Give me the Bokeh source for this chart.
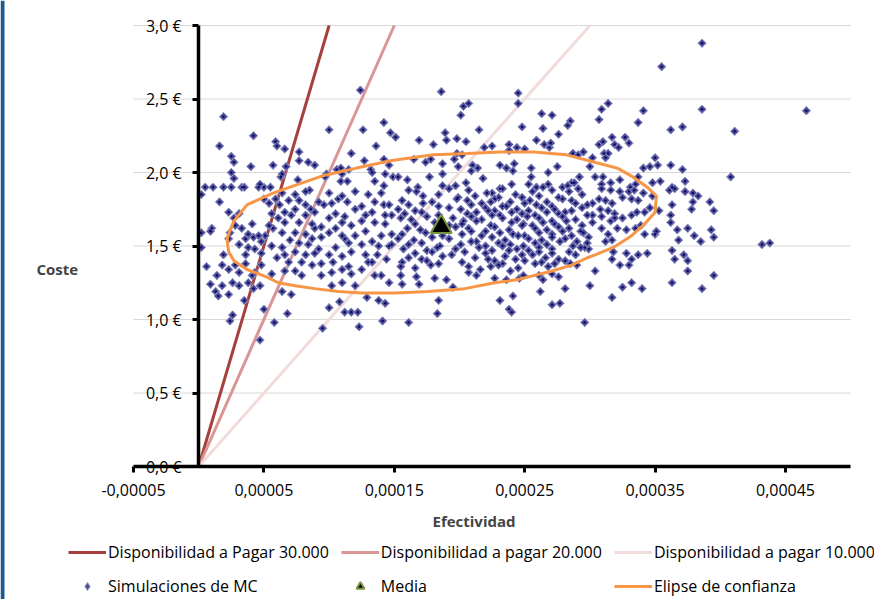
from math import pi
from bokeh.plotting import figure
from bokeh.models import (Range1d, FixedTicker, Legend, LegendItem, Label, ColumnDataSource,
                          BoxAnnotation)
from bokeh.embed import file_html
from bokeh.resources import INLINE

# ---------------- data ----------------
x_ticks = [-0.00005, 0.00005, 0.00015, 0.00025, 0.00035, 0.00045]
x_tick_labels = ["-0,00005", "0,00005", "0,00015", "0,00025", "0,00035", "0,00045"]
y_ticks = [0.0, 0.5, 1.0, 1.5, 2.0, 2.5, 3.0]
y_tick_labels = ["0,0 €", "0,5 €", "1,0 €", "1,5 €", "2,0 €", "2,5 €", "3,0 €"]
x_min, x_max = -0.00005, 0.0005     # plot-area limits (Efectividad)
y_min, y_max = 0.0, 3.0             # plot-area limits (Coste)

# willingness-to-pay lines (cost = WTP * effect)
wtp_values = [30000, 20000, 10000]
wtp_names = ["Disponibilidad a Pagar 30.000", "Disponibilidad a pagar 20.000",
             "Disponibilidad a pagar 10.000"]

media_efect = [0.000186]
media_coste = [1.63]

# Monte Carlo simulations: (efectividad x 1e-5, coste en €)
mc_izq_sup = [
    (1.9, 2.38), (4.2, 2.25), (1.6, 2.18), (5.9, 2.21), (6.0, 2.18), (6.6, 2.16), (2.5, 2.11),
    (2.7, 2.07), (4.0, 2.04), (5.7, 2.05), (6.7, 2.04), (2.5, 2.00), (2.7, 1.96), (6.3, 1.97),
    (6.4, 1.99), (7.7, 2.14), (7.7, 2.08), (8.4, 2.07), (8.9, 2.05), (7.6, 1.95), (10.0, 2.29),
    (12.4, 2.56), (12.6, 2.29), (11.7, 2.13), (12.7, 2.08), (13.6, 2.18), (14.2, 2.34), (14.7, 2.27),
    (9.8, 1.99), (9.7, 1.97), (10.6, 2.02), (10.9, 2.03), (11.0, 1.99), (11.5, 2.02), (10.9, 1.94),
    (11.4, 1.94), (13.2, 2.02), (13.3, 2.00), (13.5, 1.94), (14.2, 2.09), (14.6, 2.05), (14.3, 1.99),
    (14.9, 1.97), (14.2, 1.91), (0.5, 1.90), (1.1, 1.90), (1.9, 1.90), (2.5, 1.90), (3.3, 1.90),
    (3.5, 1.90), (4.6, 1.90), (5.0, 1.90), (5.5, 1.90), (4.7, 1.92), (8.5, 1.88), (15.1, 2.24),
]
mc_centro_sup = [
    (18.6, 2.55), (24.5, 2.54), (24.5, 2.47), (20.3, 2.45), (20.7, 2.47), (20.1, 2.39), (21.5, 2.29),
    (18.9, 2.27), (19.0, 2.22), (16.9, 2.22), (18.0, 2.19), (19.8, 2.23), (20.5, 2.21), (21.9, 2.17),
    (22.5, 2.18), (23.8, 2.19), (23.8, 2.15), (24.4, 2.17), (25.0, 2.16), (24.8, 2.31), (26.3, 2.40),
    (27.1, 2.39), (26.4, 2.30), (28.5, 2.35), (28.3, 2.32), (27.6, 2.26), (25.9, 2.22), (26.5, 2.19),
    (26.9, 2.17), (27.0, 2.20), (16.5, 2.09), (17.4, 2.07), (17.8, 2.09), (18.7, 2.06), (19.8, 2.13),
    (20.2, 2.12), (19.6, 2.09), (19.9, 2.04), (21.0, 2.05), (21.4, 2.03), (20.9, 2.01), (23.1, 2.05),
    (23.6, 2.03), (24.2, 2.06), (24.1, 2.01), (25.5, 2.03), (27.5, 2.04), (26.8, 2.00), (28.7, 2.13),
    (29.1, 2.12), (29.5, 2.14), (30.2, 2.10), (30.0, 2.04), (30.4, 1.97), (29.2, 1.97), (28.6, 1.93),
    (15.3, 1.97), (16.0, 1.95), (16.8, 1.90), (17.7, 1.97), (18.7, 1.99), (18.7, 1.91), (19.7, 1.91),
    (20.5, 1.93), (21.8, 1.96), (25.5, 1.97), (25.3, 1.92), (25.9, 1.90), (24.0, 1.92), (23.1, 1.89),
    (26.8, 1.92), (27.9, 1.90), (28.3, 1.91), (28.8, 1.93),
]
mc_der_sup = [
    (38.6, 2.88), (35.5, 2.72), (31.4, 2.47), (30.9, 2.43), (30.7, 2.36), (34.1, 2.42), (33.7, 2.34),
    (38.6, 2.43), (36.2, 2.29), (37.1, 2.31), (41.1, 2.28), (31.7, 2.24), (30.7, 2.19), (31.0, 2.21),
    (32.7, 2.24), (33.0, 2.20), (31.9, 2.19), (32.2, 2.17), (31.1, 2.13), (31.4, 2.13), (31.2, 2.10),
    (35.0, 2.10), (35.2, 2.05), (34.1, 2.03), (34.6, 2.04), (36.2, 2.05), (37.1, 2.02), (40.8, 1.97),
    (33.7, 1.97), (32.3, 1.95), (35.4, 1.94), (34.8, 1.93), (37.3, 1.94), (36.3, 1.90), (31.0, 1.97),
    (31.6, 1.93), (30.9, 1.92), (33.1, 1.90), (33.5, 1.92), (46.6, 2.42), (36.1, 1.88), (36.5, 1.89),
]
mc_der = [
    (43.2, 1.51), (43.8, 1.52), (39.5, 1.30), (39.2, 1.80), (39.5, 1.74), (37.9, 1.86), (38.3, 1.84),
    (37.9, 1.80), (37.8, 1.75), (37.3, 1.87), (36.3, 1.78), (36.2, 1.71), (36.2, 1.66), (36.7, 1.61),
    (36.8, 1.54), (37.5, 1.62), (38.0, 1.57), (38.5, 1.53), (39.3, 1.61), (39.5, 1.56), (36.3, 1.47),
    (36.5, 1.41), (37.2, 1.44), (37.5, 1.40), (37.5, 1.33), (36.3, 1.25), (38.6, 1.21), (34.4, 1.45),
    (33.7, 1.44), (33.2, 1.41), (33.0, 1.37), (32.8, 1.45), (31.8, 1.46), (31.7, 1.41), (32.3, 1.37),
    (33.2, 1.25), (32.5, 1.22), (34.0, 1.21), (31.7, 1.15), (30.4, 1.33), (34.2, 1.58), (35.0, 1.58),
    (35.1, 1.60), (35.3, 1.74), (34.6, 1.76), (34.2, 1.73), (33.9, 1.64), (32.8, 1.61), (33.5, 1.62),
    (30.9, 1.89), (31.6, 1.88), (32.3, 1.87), (33.0, 1.87), (33.4, 1.88), (34.1, 1.86), (34.8, 1.84),
    (30.7, 1.82), (31.2, 1.81), (31.7, 1.79), (32.5, 1.83), (33.2, 1.82), (33.7, 1.81), (30.8, 1.75),
    (31.4, 1.74), (31.9, 1.72), (32.5, 1.69), (33.2, 1.71), (33.6, 1.73), (30.9, 1.70), (31.6, 1.67),
    (31.9, 1.69), (30.9, 1.62), (31.4, 1.58), (32.1, 1.62), (31.2, 1.53), (31.7, 1.54),
]
mc_centro_inf = [
    (16.1, 0.98), (18.3, 1.04), (18.4, 1.13), (19.5, 1.22), (23.1, 1.13), (23.8, 1.07), (24.0, 1.05),
    (24.1, 1.16), (26.2, 1.19), (27.1, 1.10), (27.7, 1.11), (28.1, 1.21), (29.6, 0.98), (30.0, 1.23),
    (15.5, 1.30), (15.6, 1.24), (16.9, 1.24), (16.7, 1.29), (18.1, 1.28), (19.0, 1.27), (20.7, 1.32),
    (21.3, 1.30), (22.4, 1.36), (22.7, 1.28), (23.6, 1.27), (23.9, 1.33), (24.6, 1.28), (24.9, 1.30),
    (26.1, 1.30), (26.4, 1.27), (27.1, 1.31), (27.6, 1.29), (28.5, 1.38), (29.0, 1.37), (29.9, 1.48),
    (29.6, 1.49),
]
mc_centro = [
    (16.1, 1.88), (16.7, 1.87), (19.2, 1.89), (20.7, 1.88), (22.5, 1.86), (23.3, 1.89), (25.6, 1.87),
    (26.4, 1.90), (27.1, 1.88), (28.4, 1.87), (29.1, 1.89),
    (17.2, 1.84), (18.4, 1.85), (19.9, 1.83), (21.2, 1.84), (22.1, 1.86), (23.0, 1.83), (24.3, 1.85),
    (26.1, 1.84), (27.6, 1.83), (29.4, 1.85),
    (15.6, 1.81), (17.9, 1.80), (19.8, 1.82), (20.6, 1.81), (21.7, 1.79), (22.7, 1.82), (23.9, 1.80),
    (24.8, 1.83), (25.4, 1.81), (26.7, 1.80), (27.9, 1.82), (28.6, 1.81), (30.2, 1.79),
    (16.1, 1.78), (17.2, 1.79), (18.4, 1.77), (20.9, 1.78), (22.4, 1.80), (23.3, 1.77), (25.0, 1.79),
    (25.9, 1.78), (27.1, 1.77), (28.9, 1.79), (29.8, 1.78),
    (15.3, 1.75), (16.6, 1.74), (19.2, 1.76), (20.1, 1.75), (21.3, 1.73), (22.0, 1.76), (22.7, 1.74),
    (23.6, 1.77), (24.4, 1.75), (25.3, 1.74), (26.3, 1.76), (27.3, 1.75), (28.1, 1.73), (29.4, 1.76),
    (15.8, 1.72), (17.1, 1.73), (18.4, 1.71), (20.6, 1.72), (22.2, 1.74), (23.1, 1.71), (24.0, 1.73),
    (24.8, 1.72), (25.8, 1.71), (26.7, 1.73), (27.6, 1.72), (28.6, 1.74), (30.2, 1.71),
    (15.5, 1.69), (16.3, 1.68), (17.5, 1.70), (19.5, 1.69), (20.3, 1.67), (20.9, 1.70), (21.7, 1.68),
    (22.5, 1.71), (23.3, 1.69), (24.4, 1.68), (25.2, 1.70), (26.1, 1.69), (27.1, 1.67), (27.9, 1.70),
    (28.9, 1.68), (29.8, 1.71),
    (16.6, 1.65), (18.1, 1.66), (19.2, 1.64), (20.2, 1.65), (21.3, 1.67), (22.4, 1.64), (24.0, 1.66),
    (24.9, 1.65), (25.6, 1.64), (26.4, 1.66), (27.3, 1.65), (28.2, 1.67), (29.4, 1.64), (30.2, 1.66),
    (16.0, 1.62), (17.0, 1.61), (19.7, 1.63), (20.7, 1.62), (22.0, 1.60), (22.7, 1.63), (23.8, 1.61),
    (24.8, 1.64), (25.8, 1.62), (26.7, 1.61), (27.6, 1.63), (28.4, 1.62), (29.3, 1.60),
    (15.6, 1.58), (17.4, 1.59), (18.7, 1.57), (20.2, 1.58), (20.9, 1.60), (21.7, 1.57), (23.1, 1.59),
    (24.1, 1.58), (25.0, 1.57), (26.1, 1.59), (27.1, 1.58), (27.9, 1.60), (28.6, 1.57), (29.5, 1.59),
    (15.3, 1.55), (16.5, 1.54), (17.9, 1.56), (19.2, 1.55), (21.3, 1.53), (22.5, 1.56), (23.5, 1.54),
    (24.5, 1.57), (25.3, 1.55), (26.3, 1.54), (27.1, 1.56), (28.1, 1.55), (29.0, 1.53), (29.9, 1.56),
    (16.1, 1.51), (17.1, 1.52), (18.5, 1.50), (20.1, 1.51), (20.9, 1.53), (22.0, 1.50), (23.0, 1.52),
    (23.9, 1.51), (24.9, 1.50), (25.8, 1.52), (26.7, 1.51), (27.7, 1.53), (28.7, 1.50), (29.8, 1.52),
    (15.7, 1.48), (17.5, 1.47), (18.3, 1.49), (19.7, 1.48), (20.4, 1.46), (21.5, 1.49), (22.5, 1.47),
    (23.3, 1.50), (24.4, 1.48), (25.3, 1.47), (26.1, 1.49), (27.1, 1.48), (28.4, 1.46), (29.3, 1.49),
    (16.6, 1.45), (17.9, 1.46), (19.4, 1.44), (22.0, 1.45), (23.8, 1.47), (24.8, 1.44), (26.1, 1.46),
    (27.1, 1.45), (28.9, 1.44),
    (16.1, 1.42), (17.1, 1.41), (18.7, 1.43), (21.2, 1.42), (22.7, 1.40), (23.5, 1.43), (24.3, 1.41),
    (25.6, 1.44), (26.6, 1.42), (27.6, 1.41),
    (15.6, 1.39), (17.5, 1.40), (18.4, 1.38), (20.2, 1.39), (22.2, 1.41), (23.3, 1.38), (25.0, 1.40),
    (26.3, 1.39), (27.3, 1.38), (28.1, 1.40),
    (15.5, 1.36), (16.6, 1.35), (17.8, 1.37), (20.7, 1.36), (21.6, 1.34), (23.0, 1.37), (24.5, 1.35),
    (25.8, 1.38), (26.8, 1.36),
]
mc_izq_inf = [
    (2.4, 0.99), (2.6, 1.03), (3.5, 1.13), (4.7, 0.86), (5.8, 0.98), (6.8, 1.04), (5.0, 1.07),
    (9.5, 0.94), (12.3, 0.95), (10.0, 1.08), (11.2, 1.05), (11.7, 1.05), (12.2, 1.05), (14.1, 0.99),
    (12.9, 1.15), (13.8, 1.13), (14.3, 1.11), (10.8, 1.12), (7.1, 1.17), (6.4, 1.19), (0.6, 1.36),
    (0.9, 1.24), (1.3, 1.19), (1.5, 1.16), (1.8, 1.23), (2.3, 1.17), (1.4, 1.30), (2.6, 1.25),
    (3.1, 1.23), (3.8, 1.25), (4.2, 1.21), (4.7, 1.23), (4.1, 1.30), (1.0, 1.62), (0.2, 1.59),
    (0.9, 1.60), (0.2, 1.85), (1.6, 1.80), (2.3, 1.73), (3.1, 1.72), (2.7, 1.69), (2.8, 1.64),
    (3.3, 1.62), (2.4, 1.59), (2.3, 1.55), (3.6, 1.55), (4.2, 1.56), (3.8, 1.49), (4.3, 1.48),
    (3.6, 1.44), (1.8, 1.37), (2.3, 1.34), (2.8, 1.37), (3.1, 1.32), (1.9, 1.44), (0.2, 1.49),
]
mc_izq = [
    (5.0, 1.82), (5.9, 1.82), (6.2, 1.78), (6.9, 1.81), (7.7, 1.81), (7.4, 1.75), (6.6, 1.73),
    (6.1, 1.69), (5.7, 1.62), (5.1, 1.57), (4.8, 1.53), (5.6, 1.50), (6.4, 1.49), (6.0, 1.42),
    (6.9, 1.39), (7.0, 1.54), (7.4, 1.59), (7.7, 1.66), (8.2, 1.71), (8.6, 1.75), (8.9, 1.62),
    (8.7, 1.55), (9.2, 1.48), (10.0, 1.44), (10.3, 1.39), (11.0, 1.34), (11.7, 1.31), (12.5, 1.34),
    (13.0, 1.39), (13.7, 1.44), (14.4, 1.41), (14.6, 1.50), (14.0, 1.57), (13.5, 1.66), (12.8, 1.71),
    (12.0, 1.75), (11.4, 1.80), (10.7, 1.82), (9.6, 1.78), (10.0, 1.69), (10.5, 1.62), (11.2, 1.55),
    (12.0, 1.57), (12.5, 1.51), (13.3, 1.53), (14.2, 1.78), (14.8, 1.71), (8.7, 1.37), (8.2, 1.44),
    (7.4, 1.33), (7.9, 1.30), (9.4, 1.30), (11.0, 1.25), (12.0, 1.23), (10.2, 1.23), (14.0, 1.30),
    (14.6, 1.25),
    (6.4, 1.86), (7.4, 1.85), (8.2, 1.87), (10.0, 1.86), (11.0, 1.84), (12.0, 1.87), (13.0, 1.85),
    (14.0, 1.86),
    (5.4, 1.79), (8.2, 1.78), (9.2, 1.80), (10.2, 1.79), (12.5, 1.77), (13.5, 1.80), (14.6, 1.78),
    (5.6, 1.72), (7.1, 1.71), (8.9, 1.73), (10.5, 1.72), (11.2, 1.70), (13.3, 1.73), (14.3, 1.71),
    (4.1, 1.65), (5.4, 1.64), (6.6, 1.66), (8.7, 1.65), (9.4, 1.63), (11.0, 1.66), (11.7, 1.64),
    (12.5, 1.67), (14.3, 1.65),
    (3.8, 1.58), (4.6, 1.57), (6.4, 1.59), (8.2, 1.58), (9.4, 1.56), (10.0, 1.59), (11.0, 1.57),
    (12.8, 1.60), (14.8, 1.58),
    (3.1, 1.51), (5.6, 1.50), (7.7, 1.52), (8.4, 1.51), (10.5, 1.49), (11.5, 1.52), (13.8, 1.50),
    (14.8, 1.51),
    (4.8, 1.45), (6.6, 1.44), (7.4, 1.46), (8.9, 1.45), (11.0, 1.43), (11.7, 1.46), (12.8, 1.44),
    (3.6, 1.38), (4.8, 1.37), (7.9, 1.39), (9.4, 1.38), (11.5, 1.36), (13.3, 1.39),
    (4.3, 1.32), (5.6, 1.31), (6.6, 1.33), (10.2, 1.32), (13.5, 1.30),
]

# confidence ellipse outline (efectividad x 1e-5, coste)
elipse = [
    (2.2, 1.52), (2.3, 1.46), (2.7, 1.40), (3.7, 1.34), (5.2, 1.29), (6.1, 1.25), (7.4, 1.23),
    (8.9, 1.21), (10.7, 1.19), (12.5, 1.18), (15.1, 1.18), (17.6, 1.19), (20.4, 1.21), (22.7, 1.25),
    (24.4, 1.27), (25.3, 1.29), (27.1, 1.33), (28.6, 1.37), (29.8, 1.42), (30.4, 1.44), (31.8, 1.49),
    (33.2, 1.57), (34.2, 1.65), (35.0, 1.73), (35.1, 1.84), (34.4, 1.90), (33.3, 1.97), (32.1, 2.03),
    (30.8, 2.06), (28.2, 2.12), (25.7, 2.14), (23.1, 2.14), (20.6, 2.13), (18.0, 2.12), (15.5, 2.09),
    (14.7, 2.08), (12.1, 2.03), (9.6, 1.98), (7.0, 1.90), (5.7, 1.86), (3.7, 1.78), (2.7, 1.67),
    (2.2, 1.56), (2.2, 1.52),
]

ESCALA = 1e-5
mc_all = mc_izq_sup + mc_centro_sup + mc_der_sup + mc_der + mc_centro_inf + mc_centro + mc_izq_inf + mc_izq
mc_efect = [e * ESCALA for e, c in mc_all]
mc_coste = [c for e, c in mc_all]
el_efect = [e * ESCALA for e, c in elipse]
el_coste = [c for e, c in elipse]

# ---------------- styling ----------------
FONT = "Open Sans"
wtp_colors = ["#A5403C", "#D99694", "#F2DCDB"]
MC_FILL, MC_LINE = "#4E4E96", "#9A9ACB"

# the frame covers the whole canvas; the plot area is drawn with bounded axes
W, H = 874, 599
PX_X = 1304000.0     # pixels per unit of Efectividad
PX_Y = 147.0         # pixels per euro
left_px, top_px = 133, 25
xr = Range1d(x_min - left_px / PX_X, x_min + (W - left_px) / PX_X)
yr = Range1d(y_min - (H - top_px - (y_max - y_min) * PX_Y) / PX_Y, y_max + top_px / PX_Y)

p = figure(width=W, height=H, output_backend="svg", toolbar_location=None,
           x_range=xr, y_range=yr, min_border=0)
p.outline_line_color = None
p.background_fill_color = "white"
p.xgrid.visible = False
p.ygrid.visible = False

p.add_layout(BoxAnnotation(left=0, right=4, left_units="screen", right_units="screen",
                           fill_color="#1F5A8E", fill_alpha=1, line_color=None))

# horizontal gridlines of the plot area
grid_y = y_ticks[1:]
p.segment(x0=[x_min] * len(grid_y), x1=[x_max] * len(grid_y), y0=grid_y, y1=grid_y,
          line_color="#D9D9D9", line_width=1)

p.xaxis.ticker = FixedTicker(ticks=x_ticks)
p.xaxis.major_label_overrides = dict(zip(x_ticks, x_tick_labels))
p.xaxis.fixed_location = y_min
p.xaxis.bounds = (x_min, x_max)
p.yaxis.ticker = FixedTicker(ticks=y_ticks)
p.yaxis.major_label_overrides = dict(zip(y_ticks, y_tick_labels))
p.yaxis.fixed_location = 0
p.yaxis.bounds = (y_min, y_max)
for ax in (p.xaxis, p.yaxis):
    ax.axis_line_width = 3.5
    ax.axis_line_color = "black"
    ax.major_tick_line_width = 3
    ax.major_tick_line_color = "black"
    ax.major_tick_out = 6
    ax.major_tick_in = 0
    ax.minor_tick_line_color = None
    ax.major_label_text_font = FONT
    ax.major_label_text_font_size = "16px"
    ax.major_label_text_color = "black"
p.xaxis.major_label_standoff = 11
p.yaxis.major_label_standoff = 11

renderers = []
for w, col in zip(wtp_values, wtp_colors):
    xs = [0.0, y_max / w]
    r = p.line(x=xs, y=[w * x for x in xs], line_color=col, line_width=3)
    renderers.append(r)

src = ColumnDataSource(dict(x=mc_efect, y=mc_coste))
# diamond drawn underneath (fully covered) – used as the legend swatch
r_mc_leg = p.scatter(x="x", y="y", source=src, marker="diamond", size=8,
                     fill_color=MC_FILL, line_color=MC_LINE, line_width=1)
r_mc = p.scatter(x="x", y="y", source=src, marker="square", angle=pi / 4, size=6,
                 fill_color=MC_FILL, line_color=MC_LINE, line_width=1)
r_mc_c = p.scatter(x="x", y="y", source=src, marker="circle", size=2.5,
                   fill_color="#0B0B66", line_color=None)
r_el = p.line(x=el_efect, y=el_coste, line_color="#F79646", line_width=3)
r_media = p.scatter(x=media_efect, y=media_coste, marker="triangle", size=21,
                    fill_color="black", line_color="#77933C", line_width=2)

items = [LegendItem(label=n, renderers=[r]) for n, r in zip(wtp_names, renderers)]
items += [LegendItem(label="Simulaciones de MC", renderers=[r_mc_leg]),
          LegendItem(label="Media", renderers=[r_media]),
          LegendItem(label="Elipse de confianza", renderers=[r_el])]
legend = Legend(items=items, location=(68, 2), orientation="horizontal", ncols=3,
                glyph_width=38, glyph_height=20, label_standoff=2, spacing=12,
                padding=0, margin=0, border_line_color=None, background_fill_alpha=0,
                label_text_font=FONT, label_text_font_size="16px", label_text_color="black")
p.add_layout(legend, "center")

p.add_layout(Label(x=x_min - 97 / PX_X, y=(466 - 268) / PX_Y, text="Coste",
                   text_font=FONT, text_font_style="bold", text_font_size="15px",
                   text_baseline="middle", text_align="left"))
p.add_layout(Label(x=x_min + 340.5 / PX_X, y=-54 / PX_Y, text="Efectividad",
                   text_font=FONT, text_font_style="bold", text_font_size="15px",
                   text_baseline="middle", text_align="center"))

open("out.html", "w", encoding="utf-8").write(file_html(p, INLINE))
